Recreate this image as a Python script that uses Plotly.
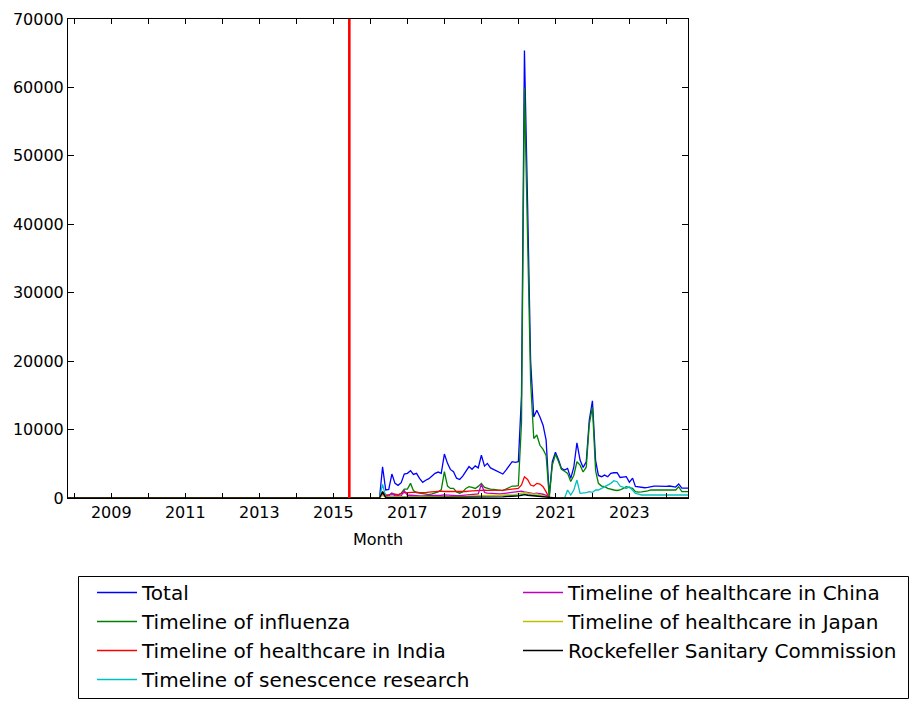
import plotly.graph_objects as go
import pandas as pd

# ---------------- data (monthly, 2016-05 .. 2024-08) ----------------
DATA_START = "2016-05-01"
DATA_END = "2024-08-01"
AXIS_START = "2007-11-01"   # series are zero from here until DATA_START
VLINE_DATE = "2015-06-08"

total = [
    4570, 1170, 1260, 3500, 2140, 1850, 2240, 3500,                     # 2016 May-Dec
    3600, 3990, 3450, 3600, 2870, 2290, 2600, 2820, 3210, 3600, 3790, 3600,  # 2017
    6420, 5060, 4180, 3840, 2900, 2700, 3200, 3840, 4600, 4200, 4700, 4400,  # 2018
    6250, 4660, 5060, 4400, 4180, 3990, 3700, 3500, 4080, 4600, 5300, 5200,  # 2019
    5300, 15000, 65400, 43000, 20000, 11850, 12830, 11850, 10640, 8460, 300, 5300,  # 2020
    6700, 5540, 4330, 4080, 4330, 2870, 4500, 8070, 5540, 4470, 5300, 11370,  # 2021
    14190, 5500, 3300, 3110, 3350, 3110, 3600, 3690, 3690, 3000, 3000, 3110,  # 2022
    2300, 2900, 1700, 1600, 1550, 1500, 1550, 1700, 1750, 1750, 1700, 1650,  # 2023
    1700, 1750, 1650, 1600, 2050, 1450, 1450, 1450,                     # 2024 Jan-Aug
]
influenza = [
    800, 300, 400, 700, 500, 400, 700, 1300,
    1300, 2140, 1100, 800, 700, 600, 500, 500, 600, 700, 900, 1200,
    3840, 1750, 1400, 1400, 900, 700, 900, 1400, 1650, 1550, 1400, 1700,
    2140, 1560, 1410, 1300, 1260, 1170, 1070, 1070, 1300, 1560, 1750, 1750,
    1800, 11000, 60000, 38000, 17000, 8700, 9200, 7700, 7100, 6200, 100, 4800,
    6400, 5300, 4200, 3900, 3600, 2400, 3300, 5300, 4800, 3800, 4500, 10800,
    13300, 4000, 2140, 1750, 1650, 1410, 1260, 1170, 1100, 1170, 1410, 1650,
    1500, 1400, 940, 850, 900, 950, 1050, 1170, 1170, 1170, 1170, 1170,
    1170, 1170, 1170, 1170, 1650, 920, 920, 920,
]
india = [
    900, 500, 450, 600, 550, 500, 650, 800,
    800, 850, 800, 850, 800, 750, 800, 850, 900, 950, 1000, 1000,
    950, 950, 900, 900, 850, 850, 900, 950, 1000, 1050, 1100, 1150,
    1200, 1150, 1100, 1100, 1050, 1050, 1100, 1150, 1200, 1250, 1300, 1400,
    1400, 1900, 3100, 2700, 1900, 1750, 2140, 2040, 1650, 900, 0, 0,
    0, 0, 0, 0, 0, 0, 0, 0, 0, 0, 0, 0,
    0, 0, 0, 0, 0, 0, 0, 0, 0, 0, 0, 0,
    0, 0, 0, 0, 0, 0, 0, 0, 0, 0, 0, 0,
    0, 0, 0, 0, 0, 0, 0, 0,
]
senescence = [
    2000, 200, 150, 300, 200, 150, 150, 200,
    200, 250, 200, 200, 150, 150, 150, 150, 200, 200, 200, 200,
    250, 250, 200, 200, 200, 150, 150, 200, 200, 250, 250, 250,
    300, 300, 250, 250, 250, 250, 250, 250, 300, 300, 350, 350,
    400, 500, 600, 500, 400, 400, 350, 350, 300, 250, 0, 0,
    0, 0, 0, 0, 1170, 440, 1170, 2620, 680, 680, 780, 920,
    830, 1170, 1170, 1400, 1650, 1900, 2140, 2530, 2380, 1750, 1560, 1400,
    1650, 1170, 680, 580, 440, 440, 440, 440, 440, 440, 440, 440,
    440, 440, 440, 440, 500, 440, 440, 440,
]
china = [
    600, 200, 300, 700, 300, 250, 300, 1100,
    400, 400, 350, 350, 300, 300, 300, 300, 350, 350, 400, 400,
    450, 400, 400, 400, 350, 350, 400, 400, 450, 500, 550, 600,
    2000, 800, 700, 650, 600, 600, 600, 650, 700, 750, 800, 850,
    900, 1000, 900, 800, 700, 650, 700, 650, 550, 400, 0, 0,
    0, 0, 0, 0, 0, 0, 0, 0, 0, 0, 0, 0,
    0, 0, 0, 0, 0, 0, 0, 0, 0, 0, 0, 0,
    0, 0, 0, 0, 0, 0, 0, 0, 0, 0, 0, 0,
    0, 0, 0, 0, 0, 0, 0, 0,
]
japan = [
    400, 100, 150, 200, 150, 150, 150, 200,
    200, 200, 200, 200, 200, 200, 200, 200, 200, 200, 250, 250,
    250, 250, 250, 250, 250, 250, 250, 250, 300, 300, 300, 300,
    350, 350, 350, 350, 350, 400, 400, 400, 450, 450, 500, 500,
    600, 700, 800, 700, 600, 550, 600, 500, 400, 200, 0, 0,
    0, 0, 0, 0, 0, 0, 0, 0, 0, 0, 0, 0,
    0, 0, 0, 0, 0, 0, 0, 0, 0, 0, 0, 0,
    0, 0, 0, 0, 0, 0, 0, 0, 0, 0, 0, 0,
    0, 0, 0, 0, 0, 0, 0, 0,
]
rockefeller = [
    900, 50, 50, 100, 50, 50, 50, 100,
    100, 100, 100, 100, 80, 80, 80, 80, 100, 100, 100, 100,
    120, 120, 100, 100, 100, 100, 100, 100, 120, 120, 120, 120,
    150, 150, 150, 150, 150, 150, 150, 150, 200, 200, 200, 250,
    300, 400, 500, 400, 350, 300, 250, 200, 150, 50, 0, 0,
    0, 0, 0, 0, 0, 0, 0, 0, 0, 0, 0, 0,
    0, 0, 0, 0, 0, 0, 0, 0, 0, 0, 0, 0,
    0, 0, 0, 0, 0, 0, 0, 0, 0, 0, 0, 0,
    0, 0, 0, 0, 0, 0, 0, 0,
]

series_names = [
    "Total",
    "Timeline of influenza",
    "Timeline of healthcare in India",
    "Timeline of senescence research",
    "Timeline of healthcare in China",
    "Timeline of healthcare in Japan",
    "Rockefeller Sanitary Commission",
]
series_values = [total, influenza, india, senescence, china, japan, rockefeller]
series_colors = ["#0000ff", "#008000", "#ff0000", "#00bfbf", "#bf00bf", "#bfbf00", "#000000"]
series_legend = ["legend", "legend", "legend", "legend", "legend2", "legend2", "legend2"]

year_ticks = list(range(2008, 2025))
y_ticks = list(range(0, 70001, 10000))

# ---------------- build ----------------
months = pd.date_range(AXIS_START, DATA_END, freq="MS")
lead = len(pd.date_range(AXIS_START, DATA_START, freq="MS")) - 1

FONT = "DejaVu Sans"
fig = go.Figure()
for name, vals, col, lg in zip(series_names, series_values, series_colors, series_legend):
    y = [0] * lead + list(vals)
    fig.add_trace(go.Scatter(
        x=months, y=y, mode="lines", name=name, legend=lg,
        line=dict(color=col, width=1.3),
    ))

fig.add_shape(type="line", xref="x", yref="paper",
              x0=VLINE_DATE, x1=VLINE_DATE, y0=0, y1=1,
              line=dict(color="#ff0000", width=2.6))

# page has an 8px body margin; layout numbers below are page pixels
OFF = 8
W, H = 917 - OFF, 708 - OFF
L, R, T, B = 68, 688, 19, 498
pw, ph = R - L, B - T
def px_x(p): return (p - L) / pw
def px_y(p): return (B - p) / ph

fig.add_shape(type="rect", xref="paper", yref="paper",
              x0=px_x(78.5), x1=px_x(908.5), y0=px_y(698.5), y1=px_y(576.5),
              line=dict(color="black", width=1), fillcolor="rgba(0,0,0,0)")

fig.update_layout(
    width=W, height=H,
    margin=dict(l=L - OFF, r=W + OFF - R, t=T - OFF, b=H + OFF - B, autoexpand=False),
    paper_bgcolor="white", plot_bgcolor="white",
    font=dict(family=FONT, color="black", size=16),
    showlegend=True,
    legend=dict(x=px_x(92), y=px_y(573), xanchor="left", yanchor="top",
                font=dict(size=20, family=FONT), bgcolor="rgba(0,0,0,0)",
                borderwidth=0, tracegroupgap=0, itemwidth=40),
    legend2=dict(x=px_x(518), y=px_y(573), xanchor="left", yanchor="top",
                 font=dict(size=20, family=FONT), bgcolor="rgba(0,0,0,0)",
                 borderwidth=0, tracegroupgap=0, itemwidth=40),
    xaxis=dict(
        range=[AXIS_START, DATA_END],
        tickvals=[f"{yr}-01-01" for yr in year_ticks],
        ticktext=[str(yr) if yr % 2 == 1 else "" for yr in year_ticks],
        ticks="inside", ticklen=5, tickcolor="black", tickwidth=1,
        showline=True, linecolor="black", linewidth=1, mirror="ticks",
        showgrid=False, zeroline=False,
        tickfont=dict(size=16, family=FONT),
        title=dict(text="Month", font=dict(size=16, family=FONT), standoff=12),
    ),
    yaxis=dict(
        range=[0, 70000],
        tickvals=y_ticks, ticktext=[str(v) for v in y_ticks],
        ticks="inside", ticklen=6, tickcolor="black", tickwidth=1,
        showline=True, linecolor="black", linewidth=1, mirror="ticks",
        showgrid=False, zeroline=False,
        tickfont=dict(size=16, family=FONT),
    ),
)

fig.write_html("out.html")
